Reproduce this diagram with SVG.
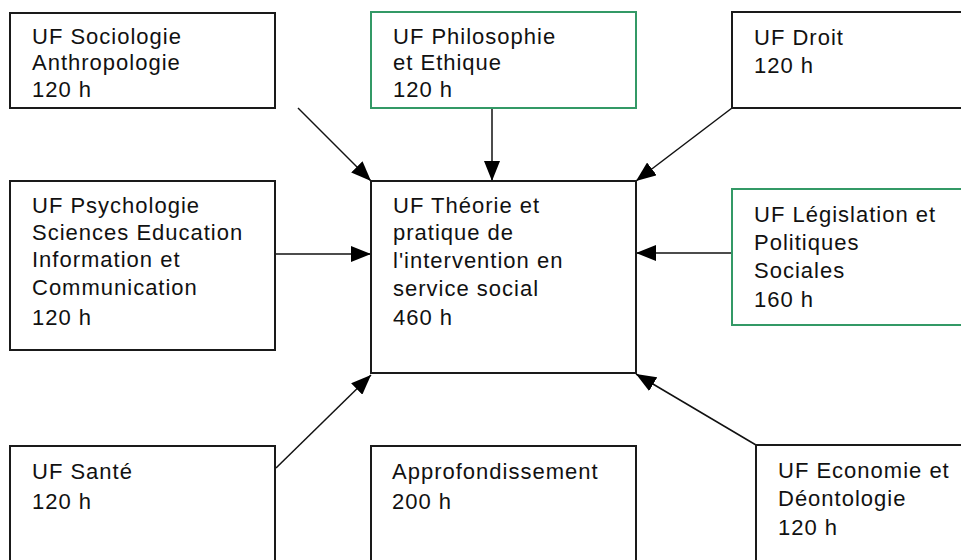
<svg xmlns="http://www.w3.org/2000/svg" width="961" height="560" viewBox="0 0 961 560">
<style>
  .box { fill: #ffffff; stroke: #1a1a1a; stroke-width: 2; }
  .green { stroke: #339966; }
  .lbl { font-family: "Liberation Sans", Arial, sans-serif; font-size: 22px; letter-spacing: 1px; fill: #111111; }
  .conn { stroke: #111111; stroke-width: 1.5; fill: none; }
</style>
<defs>
  <marker id="arr" markerUnits="userSpaceOnUse" markerWidth="20" markerHeight="16" refX="20" refY="8" orient="auto" viewBox="0 0 20 16">
    <path d="M0,0 L20,8 L0,16 z" fill="#000000"/>
  </marker>
</defs>
<rect x="0" y="0" width="961" height="560" fill="#ffffff"/>

<g id="connectors">
  <line class="conn" x1="298" y1="108" x2="371" y2="181" marker-end="url(#arr)"/>
  <line class="conn" x1="492" y1="108" x2="492" y2="181" marker-end="url(#arr)"/>
  <line class="conn" x1="732" y1="108" x2="636" y2="181" marker-end="url(#arr)"/>
  <line class="conn" x1="275" y1="254" x2="371" y2="254" marker-end="url(#arr)"/>
  <line class="conn" x1="732" y1="253" x2="636" y2="253" marker-end="url(#arr)"/>
  <line class="conn" x1="276" y1="468" x2="371" y2="375" marker-end="url(#arr)"/>
  <line class="conn" x1="756" y1="445" x2="636" y2="374" marker-end="url(#arr)"/>
</g>

<g id="sociologie">
  <rect class="box" x="10" y="13" width="265" height="95"/>
  <text class="lbl" x="32" y="44">UF Sociologie</text>
  <text class="lbl" x="32" y="70">Anthropologie</text>
  <text class="lbl" x="32" y="97">120 h</text>
</g>

<g id="philosophie">
  <rect class="box green" x="371" y="12" width="265" height="96"/>
  <text class="lbl" x="393" y="44">UF Philosophie</text>
  <text class="lbl" x="393" y="70">et Ethique</text>
  <text class="lbl" x="393" y="97">120 h</text>
</g>

<g id="droit">
  <rect class="box" x="732" y="12" width="240" height="96"/>
  <text class="lbl" x="754" y="45">UF Droit</text>
  <text class="lbl" x="754" y="73">120 h</text>
</g>

<g id="psychologie">
  <rect class="box" x="10" y="181" width="265" height="169"/>
  <text class="lbl" x="32" y="213">UF Psychologie</text>
  <text class="lbl" x="32" y="240">Sciences Education</text>
  <text class="lbl" x="32" y="267">Information et</text>
  <text class="lbl" x="32" y="295">Communication</text>
  <text class="lbl" x="32" y="325">120 h</text>
</g>

<g id="theorie">
  <rect class="box" x="371" y="181" width="265" height="192"/>
  <text class="lbl" x="393" y="213">UF Théorie et</text>
  <text class="lbl" x="393" y="240">pratique de</text>
  <text class="lbl" x="393" y="268">l'intervention en</text>
  <text class="lbl" x="393" y="296">service social</text>
  <text class="lbl" x="393" y="325">460 h</text>
</g>

<g id="legislation">
  <rect class="box green" x="732" y="189" width="240" height="136"/>
  <text class="lbl" x="754" y="222">UF Législation et</text>
  <text class="lbl" x="754" y="250">Politiques</text>
  <text class="lbl" x="754" y="278">Sociales</text>
  <text class="lbl" x="754" y="307">160 h</text>
</g>

<g id="sante">
  <rect class="box" x="10" y="446" width="265" height="130"/>
  <text class="lbl" x="32" y="479">UF Santé</text>
  <text class="lbl" x="32" y="509">120 h</text>
</g>

<g id="approfondissement">
  <rect class="box" x="371" y="446" width="265" height="130"/>
  <text class="lbl" x="392" y="479">Approfondissement</text>
  <text class="lbl" x="392" y="509">200 h</text>
</g>

<g id="economie">
  <rect class="box" x="756" y="445" width="220" height="130"/>
  <text class="lbl" x="778" y="478">UF Economie et</text>
  <text class="lbl" x="778" y="506">Déontologie</text>
  <text class="lbl" x="778" y="535">120 h</text>
</g>
</svg>
